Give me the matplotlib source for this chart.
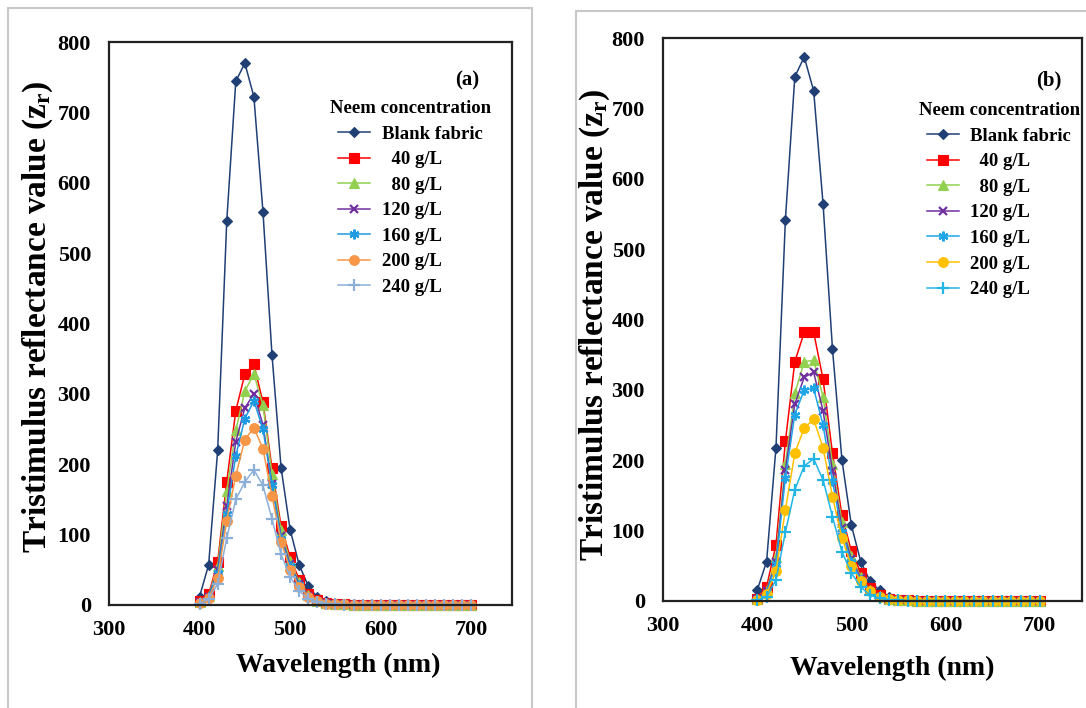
import numpy as np
import matplotlib
matplotlib.use("Agg")
import matplotlib.pyplot as plt
from matplotlib.patches import Rectangle

plt.rcParams['font.family'] = ['Liberation Serif', 'DejaVu Serif']
plt.rcParams['font.weight'] = 'bold'
plt.rcParams['mathtext.fontset'] = 'custom'
plt.rcParams['mathtext.rm'] = 'Liberation Serif:bold'
plt.rcParams['mathtext.it'] = 'Liberation Serif:bold'
plt.rcParams['mathtext.bf'] = 'Liberation Serif:bold'

# wavelength grid (nm)
wavelength = np.arange(400, 701, 10)
tail = [0.5] * 13

labels = ['Blank fabric', '  40 g/L', '  80 g/L', '120 g/L', '160 g/L', '200 g/L', '240 g/L']

# panel (a)
blank_a = [12, 57, 220, 545, 744, 770, 722, 559, 355, 195, 107, 57, 27, 11, 5, 2, 1, 1] + tail
c40_a = [5, 15, 61, 175, 276, 328, 342, 288, 194, 112, 68, 36, 16, 7, 3, 1.5, 1, 0.5] + tail
c80_a = [4, 13, 55, 162, 248, 304, 328, 284, 186, 106, 62, 32, 14, 6, 3, 1.5, 1, 0.5] + tail
c120_a = [4, 12, 50, 140, 232, 280, 300, 256, 172, 98, 58, 30, 13, 6, 2.5, 1, 1, 0.5] + tail
c160_a = [3, 11, 46, 130, 212, 265, 290, 250, 170, 94, 55, 28, 12, 5, 2.5, 1, 1, 0.5] + tail
c200_a = [3, 10, 38, 120, 184, 235, 252, 222, 155, 90, 50, 26, 12, 5, 2, 1, 1, 0.5] + tail
c240_a = [2, 8, 30, 95, 150, 175, 192, 170, 122, 72, 40, 20, 9, 4, 2, 1, 0.5, 0.5] + tail

# panel (b)
blank_b = [15, 56, 218, 542, 745, 773, 725, 564, 358, 201, 108, 56, 28, 15, 5, 2, 1, 1] + tail
c40_b = [3, 20, 80, 227, 340, 382, 382, 315, 210, 122, 71, 40, 18, 8, 3, 1.5, 1, 0.5] + tail
c80_b = [3, 15, 62, 195, 295, 340, 342, 290, 195, 112, 64, 34, 15, 7, 3, 1.5, 1, 0.5] + tail
c120_b = [3, 14, 56, 186, 280, 318, 325, 270, 185, 104, 60, 32, 14, 6, 3, 1, 1, 0.5] + tail
c160_b = [2, 12, 52, 175, 265, 300, 302, 250, 170, 98, 56, 30, 13, 6, 2.5, 1, 1, 0.5] + tail
c200_b = [2, 10, 42, 130, 210, 246, 258, 218, 148, 90, 50, 28, 14, 6, 2.5, 1, 1, 0.5] + tail
c240_b = [1, 6, 30, 98, 158, 192, 202, 172, 120, 70, 40, 20, 8, 4, 2, 1, 0.5, 0.5] + tail

markers = ['D', 's', '^', 'x', (6, 2, 0), 'o', '+']
sizes = [5.5, 7, 6.5, 6, 7, 7, 8]
colors_a = ['#203F75', '#FF0000', '#92D050', '#7030A0', '#1E9BE0', '#F79646', '#8DB0D8']
colors_b = ['#203F75', '#FF0000', '#92D050', '#7030A0', '#1EA6E8', '#FFC000', '#22B5E6']

fig = plt.figure(figsize=(10.86, 7.08), dpi=100)

# light grey panel frames
fig.patches.append(Rectangle((8 / 1086, -0.01), 524 / 1086, 1 - 8 / 708 + 0.01,
                             transform=fig.transFigure, fill=False,
                             edgecolor='#C8C8C8', lw=1.5))
fig.patches.append(Rectangle((576 / 1086, -0.01), 0.5, 1 - 11 / 708 + 0.01,
                             transform=fig.transFigure, fill=False,
                             edgecolor='#C8C8C8', lw=1.5))

ax_a = fig.add_axes([109 / 1086, 1 - 605 / 708, 403 / 1086, 563 / 708])
ax_b = fig.add_axes([663 / 1086, 1 - 601 / 708, 419 / 1086, 563 / 708])

panels = [
    (ax_a, [blank_a, c40_a, c80_a, c120_a, c160_a, c200_a, c240_a], colors_a, '(a)',
     (0.89, 0.932), (0.548, 0.897), (-0.134, 0.513), (0.568, -0.085)),
    (ax_b, [blank_b, c40_b, c80_b, c120_b, c160_b, c200_b, c240_b], colors_b, '(b)',
     (0.921, 0.924), (0.610, 0.886), (-0.122, 0.49), (0.547, -0.097)),
]

for ax, series, colors, tag, tag_pos, leg_pos, ylab_pos, xlab_pos in panels:
    for vals, lab, m, ms, c in zip(series, labels, markers, sizes, colors):
        mew = 1.6 if m in ('x', '+') or isinstance(m, tuple) else 0.8
        ax.plot(wavelength, vals, color=c, lw=1.1, marker=m, markersize=ms,
                markeredgewidth=mew, markerfacecolor=c, markeredgecolor=c,
                label=lab, clip_on=False)
    ax.set_xlim(300, 745)
    ax.set_ylim(0, 800)
    ax.set_xticks([300, 400, 500, 600, 700])
    ax.set_yticks(range(0, 801, 100))
    ax.tick_params(axis='both', length=0, labelsize=16)
    ax.tick_params(axis='x', pad=11)
    ax.tick_params(axis='y', pad=13)
    for s in ax.spines.values():
        s.set_linewidth(1.6)
        s.set_color('#222222')
    ax.set_ylabel('Tristimulus reflectance value (z$_\\mathrm{r}$)', fontsize=24,
                  fontweight='bold')
    ax.yaxis.set_label_coords(*ylab_pos)
    ax.set_xlabel('Wavelength (nm)', fontsize=20, fontweight='bold')
    ax.xaxis.set_label_coords(*xlab_pos)
    ax.text(tag_pos[0], tag_pos[1], tag, transform=ax.transAxes, fontsize=15,
            fontweight='bold', ha='center', va='center')
    leg = ax.legend(title='Neem concentration', loc='upper left',
                    bbox_to_anchor=leg_pos, frameon=False,
                    prop={'size': 13.5, 'weight': 'bold'},
                    title_fontproperties={'size': 13.5, 'weight': 'bold'},
                    handlelength=1.7, handletextpad=0.6, labelspacing=0.45,
                    borderpad=0, borderaxespad=0)

fig.savefig('out.png', dpi=100)
